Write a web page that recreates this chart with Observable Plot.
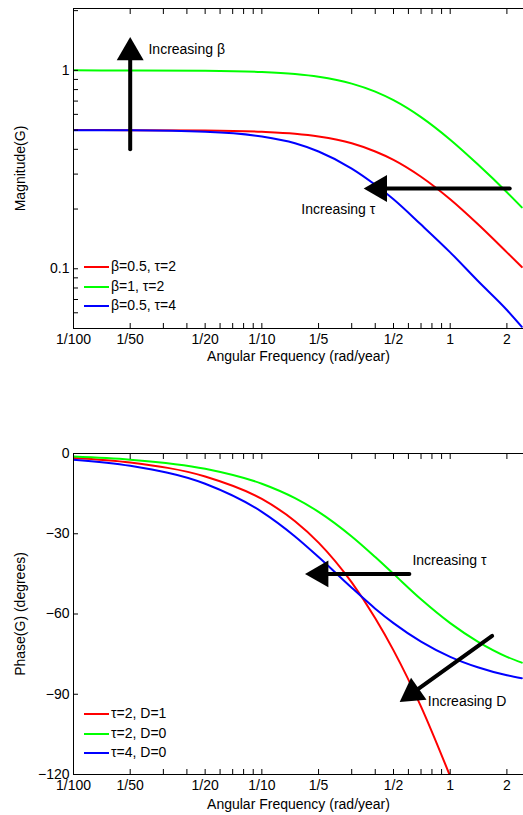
<!DOCTYPE html>
<html>
<head>
<meta charset="utf-8">
<script src="https://cdn.jsdelivr.net/npm/d3@7"></script>
<script src="https://cdn.jsdelivr.net/npm/@observablehq/plot@0.6"></script>
<style>
  body { margin: 0; background: white; font-family: "Liberation Sans", Arial, sans-serif; }
  .panel { position: relative; width: 523px; }
  .legend { position: absolute; font-size: 14px; line-height: 19.5px; color: #000; }
  .legend span.sw { display: inline-block; width: 25px; height: 2px; vertical-align: middle; margin-right: 2px; }
  svg { display: block; }
</style>
</head>
<body>
<div class="panel" id="top"></div>
<div class="panel" id="bottom"></div>
<script>
// Frequencies (rad/year) sampled along the curves
const freq = [0.01, 0.02, 0.05, 0.1, 0.15, 0.2, 0.3, 0.4, 0.5, 0.7, 1, 1.4, 2, 2.4];

// Magnitude values
const magB05T2 = [0.500, 0.4996, 0.4975, 0.490, 0.479, 0.464, 0.429, 0.390, 0.354, 0.291, 0.224, 0.168, 0.121, 0.102];
const magB1T2 = [1.0, 0.999, 0.995, 0.981, 0.958, 0.928, 0.857, 0.781, 0.707, 0.581, 0.447, 0.336, 0.243, 0.204];
const magB05T4 = [0.4996, 0.4984, 0.490, 0.464, 0.429, 0.390, 0.320, 0.265, 0.224, 0.167, 0.121, 0.087, 0.062, 0.051];

// Phase values (degrees)
const phT2D1 = [-1.7, -3.4, -8.6, -17.0, -25.3, -33.3, -48.2, -61.6, -73.6, -94.6, -120.7, null, null, null];
const phT2D0 = [-1.15, -2.3, -5.7, -11.3, -16.7, -21.8, -31.0, -38.7, -45.0, -54.5, -63.4, -70.3, -76.0, -78.2];
const phT4D0 = [-2.3, -4.6, -11.3, -21.8, -31.0, -38.7, -50.2, -58.0, -63.4, -70.3, -76.0, -79.9, -82.9, -84.0];

const xMajor = [0.01, 0.02, 0.05, 0.1, 0.2, 0.5, 1, 2];
const xMajorLabels = ["1/100", "1/50", "1/20", "1/10", "1/5", "1/2", "1", "2"];
const xMinor = [0.03, 0.04, 0.06, 0.07, 0.08, 0.09, 0.3, 0.4, 0.6, 0.7, 0.8, 0.9];
const magTicks = [0.06, 0.07, 0.08, 0.09, 0.1, 0.2, 0.3, 0.4, 0.5, 0.6, 0.7, 0.8, 0.9, 1, 2];
const magLabels = [0.1, 1];
const phaseTicks = [0, -30, -60, -90, -120];

const colors = { red: "#ff0000", green: "#00ff00", blue: "#0000ff" };
const magSeries = [
  { name: "β=0.5, τ=2", color: colors.red, values: magB05T2 },
  { name: "β=1, τ=2", color: colors.green, values: magB1T2 },
  { name: "β=0.5, τ=4", color: colors.blue, values: magB05T4 }
];
const phSeries = [
  { name: "τ=2, D=1", color: colors.red, values: phT2D1 },
  { name: "τ=2, D=0", color: colors.green, values: phT2D0 },
  { name: "τ=4, D=0", color: colors.blue, values: phT4D0 }
];

// arrows: tail (x1, y1) and tip (x2, y2)
const magArrows = [
  { x1: 0.02, y1: 0.4, x2: 0.02, y2: 1.23, rot: 0 },
  { x1: 2.07, y1: 0.254, x2: 0.42, y2: 0.254, rot: -90 }
];
const magNotes = [
  { x: 0.025, y: 1.27, text: "Increasing β" },
  { x: 0.162, y: 0.2, text: "Increasing τ" }
];
const phArrows = [
  { x1: 0.607, y1: -45, x2: 0.205, y2: -45, rot: -90 },
  { x1: 1.67, y1: -68.2, x2: 0.63, y2: -89.6, rot: -125 }
];
const phNotes = [
  { x: 0.63, y: -40, text: "Increasing τ" },
  { x: 0.76, y: -92.6, text: "Increasing D" }
];

const allX = xMajor.concat(xMinor);
const xLabelFor = v => xMajorLabels[xMajor.indexOf(v)];

function rows(series) {
  return series.flatMap(s => freq.map((f, i) => ({ f, v: s.values[i], name: s.name, color: s.color }))
    .filter(d => d.v != null));
}

function arrowMarks(arrows) {
  const shafts = arrows.flatMap((a, i) => [{ x: a.x1, y: a.y1, i }, { x: a.x2, y: a.y2, i }]);
  return [
    Plot.line(shafts, { x: "x", y: "y", z: "i", stroke: "black", strokeWidth: 4 }),
    Plot.dot(arrows, { x: "x2", y: "y2", symbol: "triangle", r: 10, fill: "black", stroke: "none", rotate: "rot" })
  ];
}

function panel({ yType, yDomain, yTicks, yTickLabels, yLabel, yFormat, data, arrows, notes, marginTop, marginBottom, height, labelOffset }) {
  const common = { fontSize: 14 };
  return Plot.plot({
    width: 523,
    height,
    marginLeft: 73,
    marginRight: 0,
    marginTop,
    marginBottom,
    style: { fontFamily: "Liberation Sans, Arial, sans-serif", fontSize: "14px", color: "black", overflow: "hidden" },
    x: { type: "log", domain: [0.01, 2.45] },
    y: { type: yType, domain: yDomain },
    marks: [
      Plot.line(data, { x: "f", y: "v", z: "name", stroke: "color", strokeWidth: 2, curve: "monotone-x", clip: true }),
      ...arrowMarks(arrows),
      Plot.text(notes, { x: "x", y: "y", text: "text", textAnchor: "start", fontSize: 14, fill: "black" }),
      Plot.axisX({ ticks: allX, tickSize: -5, tickFormat: () => "", label: null }),
      Plot.axisX({ anchor: "top", ticks: allX, tickSize: -5, tickFormat: () => "", label: null }),
      Plot.axisX({ ticks: xMajor, tickSize: 0, tickPadding: 6, tickFormat: xLabelFor, ...common,
        label: "Angular Frequency (rad/year)", labelAnchor: "center", labelArrow: "none", labelOffset }),
      Plot.axisY({ ticks: yTicks, tickSize: -5, tickFormat: () => "", label: null }),
      Plot.axisY({ ticks: yTickLabels, tickSize: 0, tickPadding: 4, tickFormat: yFormat, ...common,
        label: yLabel, labelAnchor: "center", labelArrow: "none", labelOffset: 58 }),
      Plot.ruleX([0.01], { stroke: "black" }),
      Plot.ruleY([yDomain[0]], { stroke: "black" }),
      Plot.ruleY([yDomain[1]], { stroke: "black" })
    ]
  });
}

function legend(series, left, top) {
  const div = document.createElement("div");
  div.className = "legend";
  div.style.left = left + "px";
  div.style.top = top + "px";
  div.innerHTML = series.map(s => `<div><span class="sw" style="background:${s.color}"></span>${s.name}</div>`).join("");
  return div;
}

const topEl = document.getElementById("top");
topEl.append(panel({
  yType: "log", yDomain: [0.05, 2.05], yTicks: magTicks, yTickLabels: magLabels,
  yFormat: d => String(d), yLabel: "Magnitude(G)",
  data: rows(magSeries), arrows: magArrows, notes: magNotes,
  marginTop: 8, marginBottom: 42, height: 370, labelOffset: 32
}));
topEl.append(legend(magSeries, 84, 257));

const botEl = document.getElementById("bottom");
botEl.append(panel({
  yType: "linear", yDomain: [-120, 0], yTicks: phaseTicks, yTickLabels: phaseTicks,
  yFormat: d => d < 0 ? "\u2212" + Math.abs(d) : String(d), yLabel: "Phase(G) (degrees)",
  data: rows(phSeries), arrows: phArrows, notes: phNotes,
  marginTop: 83, marginBottom: 41, height: 445, labelOffset: 34
}));
botEl.append(legend(phSeries, 84, 334));
</script>
</body>
</html>
